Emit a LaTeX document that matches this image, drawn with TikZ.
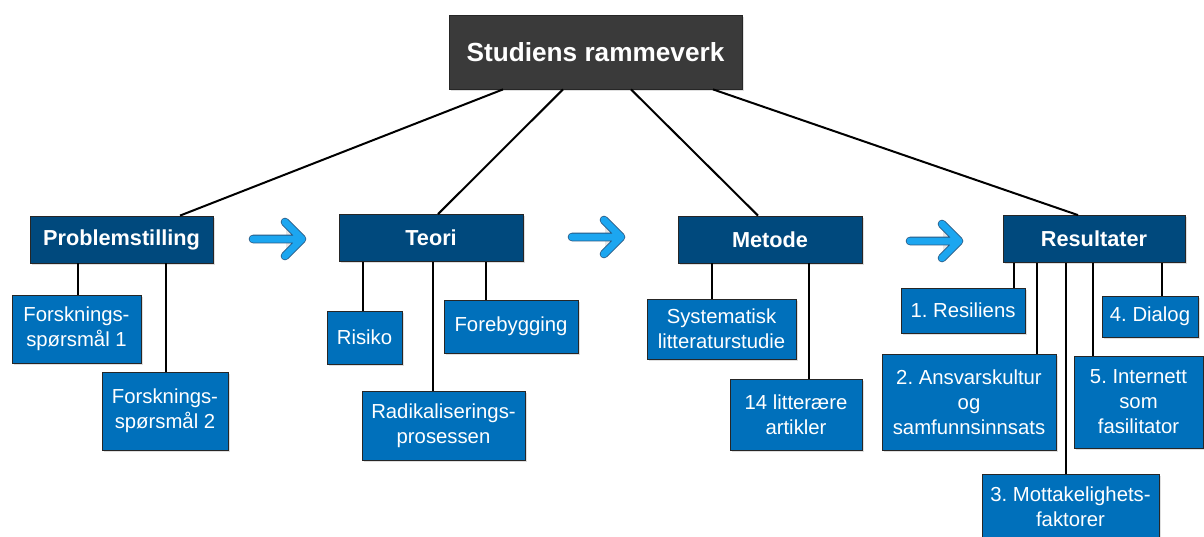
\documentclass[tikz,border=0pt]{standalone}
\usepackage{fontspec}
\setmainfont{Liberation Sans}
\usetikzlibrary{shadows}
\definecolor{rootgray}{RGB}{58,58,58}
\definecolor{headblue}{RGB}{0,73,125}
\definecolor{leafblue}{RGB}{0,112,187}
\definecolor{arrowblue}{RGB}{28,166,240}
\definecolor{arrowedge}{RGB}{40,88,130}
\frenchspacing
\begin{document}
\begin{tikzpicture}[x=1pt,y=-1pt]
    \tikzstyle{box}=[draw=black!85,line width=0.8pt,text=white,align=center,inner sep=0pt,
      drop shadow={shadow xshift=1.5pt,shadow yshift=-1.5pt,opacity=0.25}]
    \tikzstyle{head}=[box,fill=headblue,minimum height=47pt,font=\fontsize{21.7}{26}\selectfont\bfseries]
    \tikzstyle{leaf}=[box,fill=leafblue,font=\fontsize{20.3}{25}\selectfont]
    \tikzstyle{link}=[line width=2pt]
    \tikzstyle{flow}=[draw=arrowedge,double=arrowblue,line width=0.8pt,double distance=7pt,
      line cap=round,line join=round]
    \useasboundingbox (0,0) rectangle (1204,536);
    \node[box,fill=rootgray,minimum width=293pt,minimum height=74pt,
      font=\fontsize{26.2}{30}\selectfont\bfseries] at (595.5,52) (root) {Studiens rammeverk};
    \foreach \n/\x/\y/\w/\t in {prob/121.5/239.5/183/Problemstilling,teori/431/238/184/Teori,
      metode/770/239.5/184/Metode,res/1094/239/182/Resultater}
      {\node[head,minimum width=\w pt] at (\x,\y) (\n) {\t};}
    \foreach \n/\x/\y/\w/\h/\t in {fs1/76.5/329/129/68/Forsknings-\\spørsmål 1,
      fs2/165/411/126/78/Forsknings-\\spørsmål 2,
      risiko/364.5/337.5/75/53/Risiko,
      foreb/511/326.5/134/53/Forebygging,
      radikal/443.5/425.5/163/69/Radikaliserings-\\prosessen,
      syst/721.5/329/149/60/Systematisk\\litteraturstudie,
      litt/796/414.5/132/71/14 litterære\\artikler,
      r1/963/310.5/124/45/1. Resiliens,
      r4/1150/316.5/96/41/4. Dialog,
      r2/969/402/174/96/2. Ansvarskultur\\og\\samfunnsinnsats,
      r5/1138.5/402/129/92/5. Internett\\som\\fasilitator,
      r3/1070.5/507/177/66/3. Mottakelighets-\\faktorer}
      {\node[leaf,minimum width=\w pt,minimum height=\h pt] at (\x,\y) (\n) {\t};}
    \foreach \c/\a/\b in {prob/503/180,teori/563/438,metode/631/758,res/713/1078}
      {\draw[link] (root.south -| \a,0) -- (\c.north -| \b,0);}
    \foreach \p/\c/\x in {prob/fs1/78,prob/fs2/166,teori/risiko/363,teori/radikal/433,
      teori/foreb/486,metode/syst/712,metode/litt/809,res/r1/1014,res/r2/1037,
      res/r3/1066,res/r5/1093,res/r4/1162}
      {\draw[link] (\p.south -| \x,0) -- (\c.north -| \x,0);}
    \foreach \x/\y in {277/239,596/237,934/241}
      {\draw[flow,drop shadow={shadow xshift=1pt,shadow yshift=-1pt,opacity=0.2}]
        (\x-24,\y) -- (\x+25,\y) (\x+8,\y-17) -- (\x+25,\y) -- (\x+8,\y+17);}
  \end{tikzpicture}
\end{document}
